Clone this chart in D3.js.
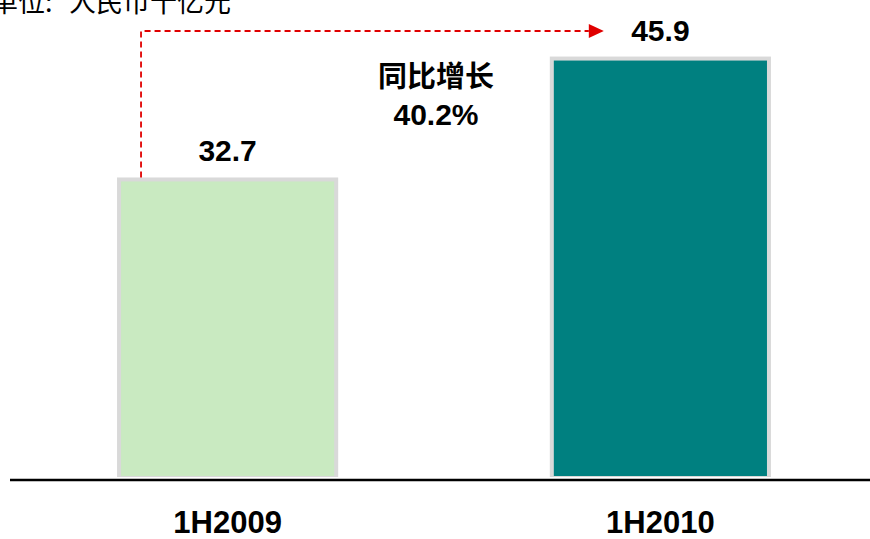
<!DOCTYPE html>
<html>
<head>
<meta charset="utf-8">
<script src="https://cdn.jsdelivr.net/npm/d3@7"></script>
<style>
  html, body { margin: 0; padding: 0; background: #fff; }
  svg { display: block; }
</style>
</head>
<body>
<svg id="chart" width="870" height="539"></svg>
<script>
// Half-year revenue, RMB billion
const categories = ["1H2009", "1H2010"];
const values = [32.7, 45.9];
const barColors = ["#c9eac1", "#008080"];
const unitPrefix = "单位:";
const unitText = "人民币十亿元";
const growthTitle = "同比增长";
const growthLabel = "40.2%";

const svg = d3.select("#chart");
const W = 870;
const baseY = 477;

const x = d3.scaleBand()
  .domain(categories)
  .range([11, 877])
  .paddingInner(0.489)
  .paddingOuter(0.245);

const y = d3.scaleLinear()
  .domain([0, 50])
  .range([baseY, baseY - 458]);

const latin = "'Liberation Sans', Arial, sans-serif";
const cjk = "'Noto Sans CJK SC', sans-serif";

// unit caption, partly running off the top-left edge
const unit = svg.append("text")
  .attr("y", 12)
  .attr("font-family", cjk)
  .attr("font-size", 27)
  .attr("fill", "#000");
unit.append("tspan").attr("x", -9).text(unitPrefix);
unit.append("tspan").attr("x", 69).text(unitText);

const bars = svg.append("g").selectAll("g")
  .data(categories.map((c, i) => ({ c, v: values[i], color: barColors[i] })))
  .join("g");

// grey frame
bars.append("rect")
  .attr("x", d => x(d.c))
  .attr("y", d => y(d.v))
  .attr("width", x.bandwidth())
  .attr("height", d => baseY - y(d.v))
  .attr("fill", "#d9d9d9");

// coloured fill inside the frame
bars.append("rect")
  .attr("x", d => x(d.c) + 4)
  .attr("y", d => y(d.v) + 4)
  .attr("width", x.bandwidth() - 8)
  .attr("height", d => baseY - y(d.v) - 5)
  .attr("fill", d => d.color);

// value labels
bars.append("text")
  .attr("x", d => x(d.c) + x.bandwidth() / 2)
  .attr("y", d => y(d.v) - 16)
  .attr("text-anchor", "middle")
  .attr("font-family", latin)
  .attr("font-weight", "bold")
  .attr("font-size", 30)
  .attr("fill", "#000")
  .text(d => d.v.toFixed(1));

// baseline
svg.append("line")
  .attr("x1", 10).attr("x2", W)
  .attr("y1", 480).attr("y2", 480)
  .attr("stroke", "#000")
  .attr("stroke-width", 2.5);

// category labels
svg.append("g").selectAll("text")
  .data(categories)
  .join("text")
  .attr("x", d => x(d) + x.bandwidth() / 2)
  .attr("y", 533)
  .attr("text-anchor", "middle")
  .attr("font-family", latin)
  .attr("font-weight", "bold")
  .attr("font-size", 31)
  .attr("fill", "#000")
  .text(d => d);

// dashed growth arrow from the first bar towards the second
const ax = x(categories[0]) + 24;
const ay = 31;
const tipX = x(categories[1]) + 54;
svg.append("path")
  .attr("d", `M${ax},${y(values[0])} V${ay} H${tipX - 15}`)
  .attr("fill", "none")
  .attr("stroke", "#e00000")
  .attr("stroke-width", 1.8)
  .attr("stroke-dasharray", "6,4");
svg.append("path")
  .attr("d", `M${tipX - 15},${ay - 7} L${tipX},${ay} L${tipX - 15},${ay + 7} Z`)
  .attr("fill", "#e00000");

// growth annotation
const gx = (x(categories[0]) + x.bandwidth() + x(categories[1])) / 2 - 8;
svg.append("text")
  .attr("x", gx).attr("y", 87)
  .attr("text-anchor", "middle")
  .attr("font-family", cjk)
  .attr("font-weight", "bold")
  .attr("font-size", 29)
  .attr("fill", "#000")
  .text(growthTitle);
svg.append("text")
  .attr("x", gx).attr("y", 125)
  .attr("text-anchor", "middle")
  .attr("font-family", latin)
  .attr("font-weight", "bold")
  .attr("font-size", 30)
  .attr("fill", "#000")
  .text(growthLabel);
</script>
</body>
</html>
